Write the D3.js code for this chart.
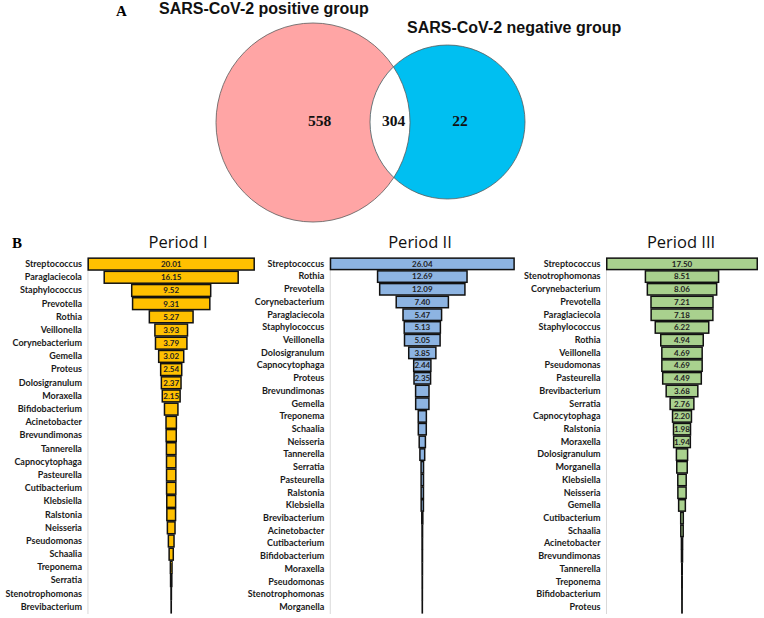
<!DOCTYPE html>
<html><head><meta charset="utf-8">
<script src="https://cdn.jsdelivr.net/npm/d3@7"></script>
<style>html,body{margin:0;padding:0;background:#fff;} svg{display:block;}</style>
</head><body>
<svg id="chart" width="764" height="618"></svg>
<script>
// ---------- DATA ----------
const vennLabels = ["SARS-CoV-2 positive group", "SARS-CoV-2 negative group"];
const vennCounts = [558, 304, 22]; // positive only, shared, negative only

const periodTitles = ["Period I", "Period II", "Period III"];

const p1Genera = ["Streptococcus","Paraglaciecola","Staphylococcus","Prevotella","Rothia","Veillonella","Corynebacterium","Gemella","Proteus","Dolosigranulum","Moraxella","Bifidobacterium","Acinetobacter","Brevundimonas","Tannerella","Capnocytophaga","Pasteurella","Cutibacterium","Klebsiella","Ralstonia","Neisseria","Pseudomonas","Schaalia","Treponema","Serratia","Stenotrophomonas","Brevibacterium"];
const p1Values = [20.01,16.15,9.52,9.31,5.27,3.93,3.79,3.02,2.54,2.37,2.15,1.62,1.25,1.22,1.15,1.13,1.12,1.11,1.07,1.05,0.92,0.68,0.50,0.20,0.15,0.05,0.02];
const p1Labelled = 11;

const p2Genera = ["Streptococcus","Rothia","Prevotella","Corynebacterium","Paraglaciecola","Staphylococcus","Veillonella","Dolosigranulum","Capnocytophaga","Proteus","Brevundimonas","Gemella","Treponema","Schaalia","Neisseria","Tannerella","Serratia","Pasteurella","Ralstonia","Klebsiella","Brevibacterium","Acinetobacter","Cutibacterium","Bifidobacterium","Moraxella","Pseudomonas","Stenotrophomonas","Morganella"];
const p2Values = [26.04,12.69,12.09,7.40,5.47,5.13,5.05,3.85,2.44,2.35,1.90,1.88,1.15,1.13,0.88,0.68,0.35,0.34,0.33,0.32,0.15,0.08,0.07,0.06,0.05,0.04,0.03,0.02];
const p2Labelled = 10;

const p3Genera = ["Streptococcus","Stenotrophomonas","Corynebacterium","Prevotella","Paraglaciecola","Staphylococcus","Rothia","Veillonella","Pseudomonas","Pasteurella","Brevibacterium","Serratia","Capnocytophaga","Ralstonia","Moraxella","Dolosigranulum","Morganella","Klebsiella","Neisseria","Gemella","Cutibacterium","Schaalia","Acinetobacter","Brevundimonas","Tannerella","Treponema","Bifidobacterium","Proteus"];
const p3Values = [17.50,8.51,8.06,7.21,7.18,6.22,4.94,4.69,4.69,4.49,3.68,2.76,2.20,1.98,1.94,1.30,1.22,0.98,0.96,0.78,0.30,0.28,0.14,0.12,0.06,0.05,0.04,0.03];
const p3Labelled = 15;

const barColors = ["#FFC000", "#8DB4E2", "#A9D18E"];
const vennColors = ["#FFA5A5", "#00BFF1"];

// ---------- DRAW ----------
const svg = d3.select("#chart");

// Panel A: Venn
svg.append("text").attr("x", 116).attr("y", 16)
  .attr("font-family", "Liberation Serif, serif").attr("font-weight", "bold").attr("font-size", 15).text("A");

const L = {cx: 313, cy: 122.5, rx: 97, ry: 99.5};
const R = {cx: 447.5, cy: 122, rx: 77.5, ry: 77};
const defs = svg.append("defs");
defs.append("clipPath").attr("id", "clipR").append("ellipse")
  .attr("cx", R.cx).attr("cy", R.cy).attr("rx", R.rx).attr("ry", R.ry);

svg.append("ellipse").attr("cx", L.cx).attr("cy", L.cy).attr("rx", L.rx).attr("ry", L.ry).attr("fill", vennColors[0]);
svg.append("ellipse").attr("cx", R.cx).attr("cy", R.cy).attr("rx", R.rx).attr("ry", R.ry).attr("fill", vennColors[1]);
svg.append("ellipse").attr("cx", L.cx).attr("cy", L.cy).attr("rx", L.rx).attr("ry", L.ry)
  .attr("fill", "#fff").attr("clip-path", "url(#clipR)");
[L, R].forEach(e => svg.append("ellipse").attr("cx", e.cx).attr("cy", e.cy).attr("rx", e.rx).attr("ry", e.ry)
  .attr("fill", "none").attr("stroke", "#5a5a5a").attr("stroke-width", 0.8));

svg.append("text").attr("x", 159).attr("y", 14).attr("font-family", "Liberation Sans, Arial, sans-serif")
  .attr("font-weight", "bold").attr("font-size", 16).attr("fill", "#111").text(vennLabels[0]);
svg.append("text").attr("x", 407).attr("y", 33).attr("font-family", "Liberation Sans, Arial, sans-serif")
  .attr("font-weight", "bold").attr("font-size", 16).attr("fill", "#111").text(vennLabels[1]);

const countX = [319.5, 393.5, 460];
vennCounts.forEach((c, i) => svg.append("text").attr("x", countX[i]).attr("y", 126)
  .attr("text-anchor", "middle").attr("font-family", "Liberation Serif, serif").attr("font-weight", "bold")
  .attr("font-size", 15.5).attr("fill", "#111").text(c));

// Panel B
svg.append("text").attr("x", 12).attr("y", 248)
  .attr("font-family", "Liberation Serif, serif").attr("font-weight", "bold").attr("font-size", 15).text("B");

const panels = [
  {title: periodTitles[0], cats: p1Genera, vals: p1Values, labelled: p1Labelled, color: barColors[0], cx: 171.2, w: 166, tx: 178},
  {title: periodTitles[1], cats: p2Genera, vals: p2Values, labelled: p2Labelled, color: barColors[1], cx: 422.3, w: 183.6, tx: 420},
  {title: periodTitles[2], cats: p3Genera, vals: p3Values, labelled: p3Labelled, color: barColors[2], cx: 682, w: 150.5, tx: 681}
];
const yRange = [257.5, 613.5];
const fmt = d3.format(".2f");

panels.forEach(p => {
  const y = d3.scaleBand().domain(p.cats).range(yRange).paddingInner(0.1).paddingOuter(0.05);
  const x = d3.scaleLinear().domain([0, d3.max(p.vals)]).range([0, p.w]);
  const axisX = p.cx - p.w / 2 - 0.75;
  const g = svg.append("g");

  g.append("text").attr("x", p.tx).attr("y", 248).attr("text-anchor", "middle")
    .attr("font-family", "Open Sans, sans-serif").attr("font-size", 16.5).attr("fill", "#111").text(p.title);

  g.append("g").attr("transform", `translate(${axisX},0)`)
    .call(d3.axisLeft(y).tickSize(0).tickSizeOuter(0).tickPadding(5.5))
    .call(a => a.select(".domain").attr("stroke", "#d9d9d9").attr("stroke-width", 1))
    .call(a => a.selectAll("text").attr("font-family", "Lato, sans-serif").attr("font-weight", "bold")
      .attr("font-size", 9).attr("fill", "#1a1a1a"));

  const data = p.cats.map((c, i) => ({c, v: p.vals[i], i}));
  g.selectAll("rect.bar").data(data).join("rect").attr("class", "bar")
    .attr("x", d => p.cx - x(d.v) / 2).attr("width", d => x(d.v))
    .attr("y", d => y(d.c)).attr("height", y.bandwidth())
    .attr("fill", p.color).attr("stroke", "#111").attr("stroke-width", 1.5);

  g.selectAll("text.val").data(data.filter(d => d.i < p.labelled)).join("text").attr("class", "val")
    .attr("x", p.cx).attr("y", d => y(d.c) + y.bandwidth() / 2).attr("dy", "0.36em")
    .attr("text-anchor", "middle").attr("font-family", "Lato, sans-serif").attr("font-weight", "bold")
    .attr("font-size", 8).attr("fill", "#222").text(d => fmt(d.v));
});
</script>
</body></html>
